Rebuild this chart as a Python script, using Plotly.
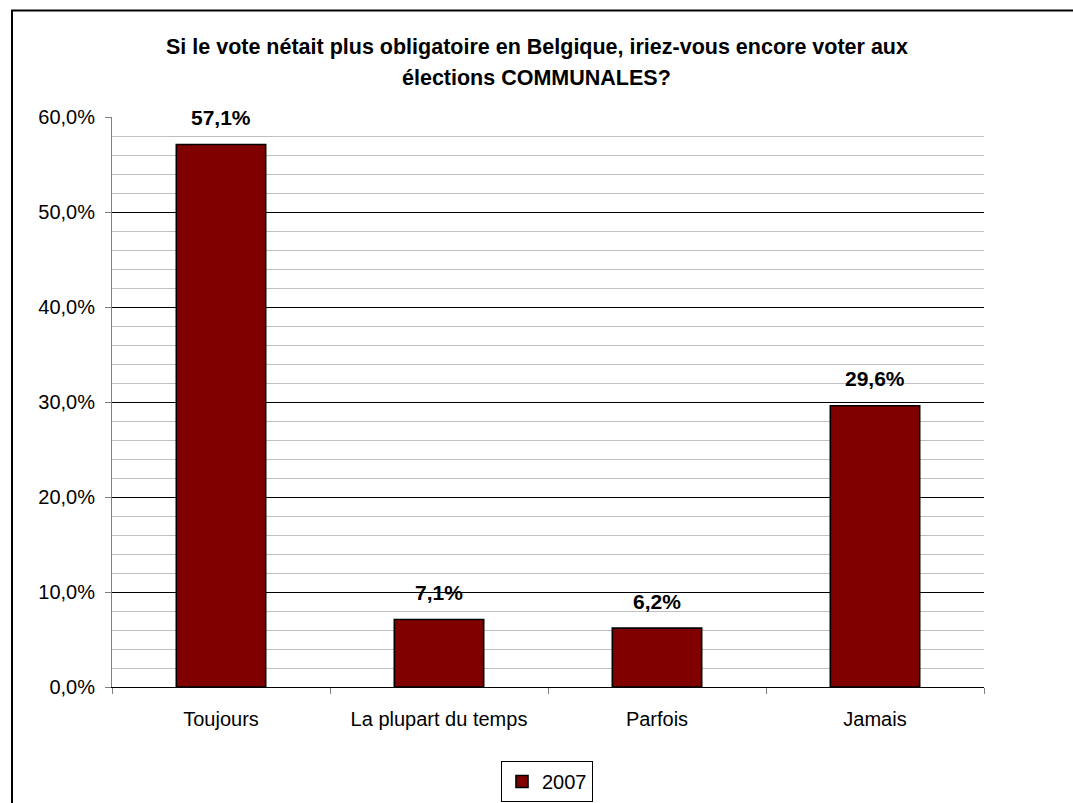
import plotly.graph_objects as go

# Survey answers (share of respondents, %)
categories = ["Toujours", "La plupart du temps", "Parfois", "Jamais"]
values_2007 = [57.1, 7.1, 6.2, 29.6]
series_name = "2007"
title_lines = [
    "Si le vote nétait plus obligatoire en Belgique, iriez-vous encore voter aux",
    "élections COMMUNALES?",
]
y_tickvals = [0, 10, 20, 30, 40, 50, 60]
y_ticktext = ["0,0%", "10,0%", "20,0%", "30,0%", "40,0%", "50,0%", "60,0%"]

W, H = 1073, 803
L, R, T, B = 112, 89, 117, 116
plot_w = W - L - R
plot_h = H - T - B


def px_x(px):
    return (px - L) / plot_w


def px_y(py):
    return (H - B - py) / plot_h


FONT = "Liberation Sans, Arial, sans-serif"

fig = go.Figure()
fig.add_trace(go.Bar(
    x=categories,
    y=values_2007,
    name=series_name,
    marker=dict(color="#800000", line=dict(color="#000000", width=1.6)),
    showlegend=True,
))

annotations = []
for cat, val in zip(categories, values_2007):
    annotations.append(dict(
        x=cat, y=val, xref="x", yref="y",
        text=f"<b>{val:.1f}%</b>".replace(".", ","),
        showarrow=False, yanchor="middle", yshift=27,
        font=dict(family=FONT, size=21, color="#000000"),
    ))

title_centers = [47, 78]
for line, cy in zip(title_lines, title_centers):
    annotations.append(dict(
        x=px_x(W / 2), y=px_y(cy), xref="paper", yref="paper",
        text=f"<b>{line}</b>", showarrow=False,
        xanchor="center", yanchor="middle",
        font=dict(family=FONT, size=21.5, color="#000000"),
    ))

fig.update_layout(
    width=W, height=H,
    margin=dict(l=L, r=R, t=T, b=B, pad=0, autoexpand=False),
    paper_bgcolor="#ffffff",
    plot_bgcolor="#ffffff",
    bargap=0.59,
    font=dict(family=FONT, size=20, color="#000000"),
    annotations=annotations,
    legend=dict(
        orientation="h",
        x=px_x(547), xanchor="center",
        y=px_y(761), yanchor="top",
        bordercolor="#000000", borderwidth=1,
        bgcolor="#ffffff",
        font=dict(family=FONT, size=20, color="#000000"),
        itemwidth=30,
    ),
    shapes=[dict(
        type="rect", xref="paper", yref="paper",
        x0=px_x(12), x1=px_x(W + 20),
        y0=px_y(H + 20), y1=px_y(10.5),
        line=dict(color="#000000", width=2),
        fillcolor="rgba(0,0,0,0)",
        layer="above",
    )],
)

fig.update_xaxes(
    type="category",
    showline=True, linecolor="#000000", linewidth=1,
    ticks="outside", ticklen=6, tickcolor="#808080", tickwidth=1,
    tickson="boundaries",
    showgrid=False,
    ticklabelstandoff=14,
    tickfont=dict(family=FONT, size=20, color="#000000"),
)

fig.update_yaxes(
    range=[0, 60],
    tickvals=y_tickvals, ticktext=y_ticktext,
    showline=True, linecolor="#808080", linewidth=1,
    ticks="outside", ticklen=6, tickcolor="#808080", tickwidth=1,
    showgrid=True, gridcolor="#000000", gridwidth=1,
    minor=dict(dtick=2, showgrid=True, gridcolor="#c0c0c0", gridwidth=1, ticks=""),
    zeroline=False,
    ticklabelstandoff=6,
    tickfont=dict(family=FONT, size=20, color="#000000"),
)

fig.write_html("out.html")
